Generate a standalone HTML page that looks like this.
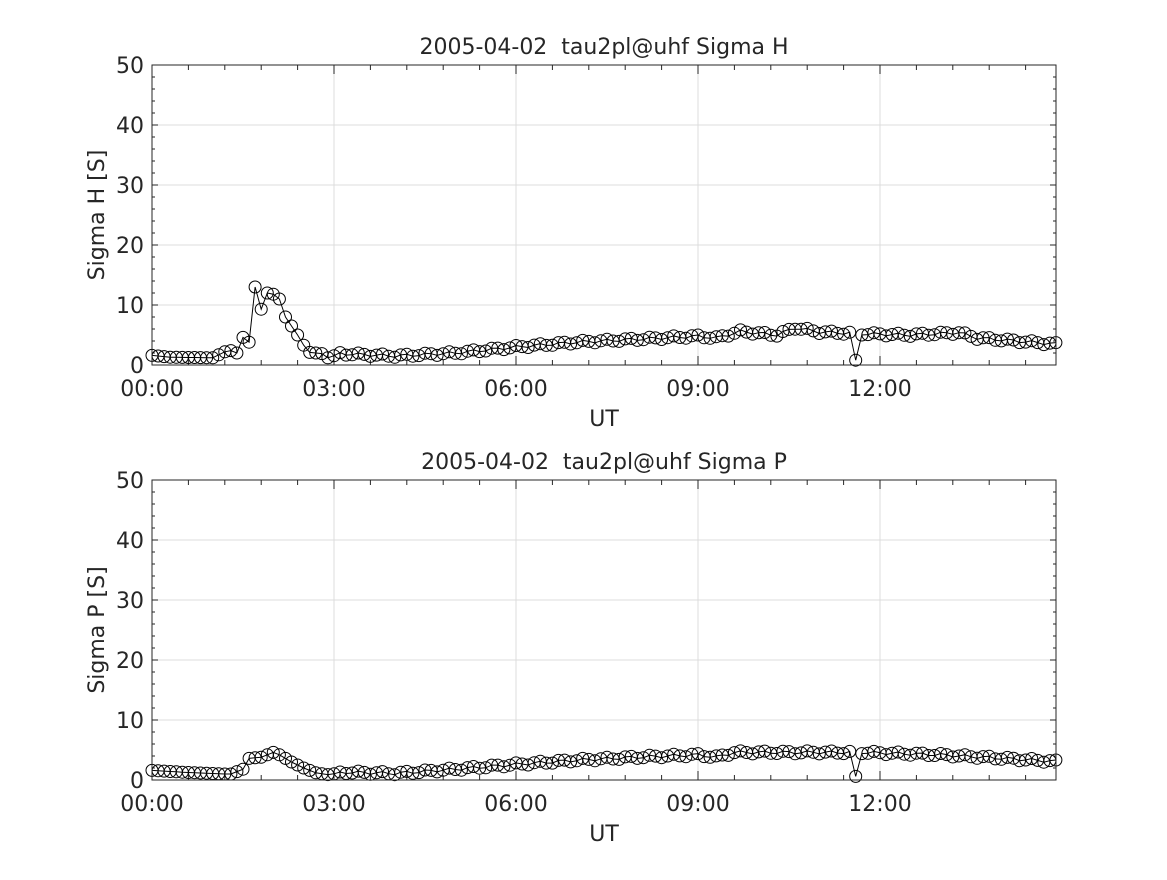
<!DOCTYPE html>
<html><head><meta charset="utf-8"><style>
body{margin:0;background:#fff}
text{font-family:"DejaVu Sans","Liberation Sans",sans-serif;fill:#262626}
</style></head><body>
<svg id="s" width="1167" height="875" xmlns="http://www.w3.org/2000/svg"></svg>
<script>
const S=document.getElementById('s');let h='';
const X0=152,X1=1056,PX=182/3;
function interp(pts,t){for(let i=0;i<pts.length-1;i++){if(t<=pts[i+1][0]+1e-9){const a=pts[i],b=pts[i+1];return a[1]+(b[1]-a[1])*(t-a[0])/(b[0]-a[0]);}}return pts[pts.length-1][1];}
const HP=[[0,1.6],[0.3,1.3],[1.0,1.2],[1.2,2.2],[1.3,2.4],[1.4,2.0],[1.5,4.6],[1.6,3.8],[1.6,5.7],[1.7,13],[1.8,9.3],[1.9,12],[2.0,11.8],[2.1,11.0],[2.2,8],[2.3,6.5],[2.4,5.0],[2.5,3.3],[2.6,2.1],[2.8,1.9],[2.9,1.2],[3.1,1.9],[4,1.5],[5,2.0],[6,3.0],[7,3.8],[8,4.3],[9,4.8],[9.3,4.5],[9.7,5.6],[10.3,5.0],[10.6,6.2],[11,5.5],[11.5,5.3],[11.6,0.8],[11.7,5.2],[12.5,5.0],[13.3,5.4],[13.6,4.5],[14.9,3.5]];
const PP=[[0,1.6],[0.5,1.3],[1.2,1.0],[1.3,1.0],[1.5,1.8],[1.6,3.6],[1.8,3.8],[2.0,4.6],[2.1,4.2],[2.3,3.0],[2.5,2.0],[2.7,1.2],[2.9,0.9],[3.2,1.3],[4,1.1],[5,1.8],[6,2.6],[7,3.3],[8,3.8],[9,4.2],[9.3,3.8],[9.6,4.6],[11.5,4.6],[11.6,0.6],[11.7,4.6],[13,4.2],[14.9,3.1]];
function panel(top,pts,title,ylab){
  const x=t=>X0+t*PX, y=v=>top+300-v*6;
  for(let v=10;v<50;v+=10)h+=`<line x1="${X0}" x2="${X1}" y1="${y(v)}" y2="${y(v)}" stroke="#dcdcdc"/>`;
  for(let t=3;t<15;t+=3)h+=`<line x1="${x(t)}" x2="${x(t)}" y1="${top}" y2="${top+300}" stroke="#dcdcdc"/>`;
  for(let v=0;v<=50;v+=2){h+=`<line x1="${X0}" x2="${X0+(v%10?3:6)}" y1="${y(v)}" y2="${y(v)}" stroke="#262626"/><line x1="${X1}" x2="${X1-(v%10?3:6)}" y1="${y(v)}" y2="${y(v)}" stroke="#262626"/>`;}
  for(let t=0;t<=14.9;t+=0.6){const m=Math.abs(t/3-Math.round(t/3))<1e-6;h+=`<line x1="${x(t)}" x2="${x(t)}" y1="${top+300}" y2="${top+300-(m?9:5)}" stroke="#262626"/><line x1="${x(t)}" x2="${x(t)}" y1="${top}" y2="${top+(m?9:5)}" stroke="#262626"/>`;}
  let d='',c='';
  for(let i=0;i<=149;i++){const t=Math.round(i)/10,v=interp(pts,t)+0.25*Math.sin(i*1.7)*(t>3&&Math.abs(t-11.6)>0.05?1:0);d+=(i?'L':'M')+x(t).toFixed(1)+','+y(v).toFixed(1);c+=`<circle cx="${x(t).toFixed(1)}" cy="${y(v).toFixed(1)}" r="6" fill="none" stroke="#000"/>`;}
  h+=`<path d="${d}" fill="none" stroke="#000"/>`+c;
  h+=`<rect x="${X0}" y="${top}" width="${X1-X0}" height="300" fill="none" stroke="#262626"/>`;
  for(let v=0;v<=50;v+=10)h+=`<text x="${X0-8}" y="${y(v)+8}" font-size="22" text-anchor="end">${v}</text>`;
  ['00:00','03:00','06:00','09:00','12:00'].forEach((s,i)=>h+=`<text x="${x(i*3)}" y="${top+331}" font-size="22" text-anchor="middle">${s}</text>`);
  h+=`<text x="604" y="${top+361}" font-size="22" text-anchor="middle">UT</text>`;
  h+=`<text x="604" y="${top-11}" font-size="22" text-anchor="middle" xml:space="preserve">${title}</text>`;
  h+=`<text transform="translate(104,${top+150}) rotate(-90)" font-size="22" text-anchor="middle">${ylab}</text>`;
}
panel(65,HP,'2005-04-02  tau2pl@uhf Sigma H','Sigma H [S]');
panel(480,PP,'2005-04-02  tau2pl@uhf Sigma P','Sigma P [S]');
S.innerHTML=h;
</script>
</body></html>
